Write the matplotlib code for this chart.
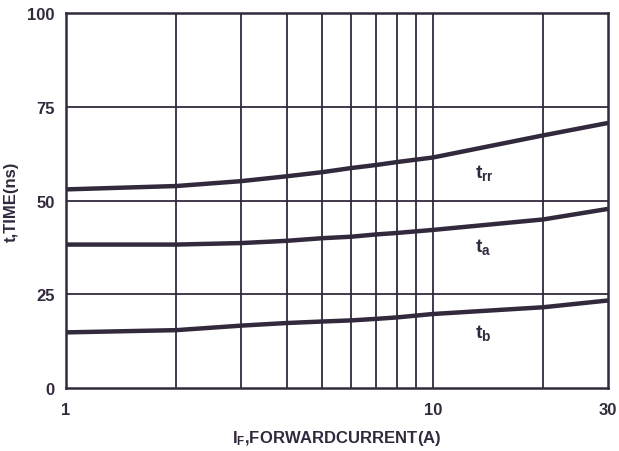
import matplotlib
matplotlib.use("Agg")
import matplotlib.pyplot as plt
from matplotlib.ticker import FixedLocator, NullLocator, FixedFormatter

plt.rcParams['font.family'] = ['Liberation Sans', 'DejaVu Sans']
plt.rcParams['mathtext.fontset'] = 'custom'
plt.rcParams['mathtext.rm'] = 'Liberation Sans:bold'
plt.rcParams['mathtext.it'] = 'Liberation Sans:bold'
plt.rcParams['mathtext.bf'] = 'Liberation Sans:bold'

INK = '#33293d'

# forward current (A)
current = [1, 2, 3, 4, 5, 6, 7, 8, 10, 20, 30]
# reverse recovery times (ns)
t_rr = [53.0, 53.9, 55.2, 56.5, 57.6, 58.7, 59.5, 60.3, 61.5, 67.4, 70.7]
t_a = [38.3, 38.3, 38.7, 39.3, 40.0, 40.4, 41.0, 41.4, 42.2, 45.0, 47.8]
t_b = [14.9, 15.5, 16.7, 17.4, 17.8, 18.1, 18.5, 18.9, 19.8, 21.6, 23.4]

series = [
    (t_rr, r'$\mathregular{t_{rr}}$', 57.6),
    (t_a, r'$\mathregular{t_a}$', 37.8),
    (t_b, r'$\mathregular{t_b}$', 15.1),
]

x_grid = [2, 3, 4, 5, 6, 7, 8, 9, 10, 20]
x_ticks = [1, 10, 30]
y_ticks = [0, 25, 50, 75, 100]

fig = plt.figure(figsize=(6.19, 4.52), dpi=100)
ax = fig.add_axes([0.1066, 0.1387, 0.8755, 0.8303])

ax.set_xscale('log')
ax.set_xlim(1, 30)
ax.set_ylim(0, 100)

for xv in x_grid:
    ax.axvline(xv, color=INK, lw=1.3, zorder=1)
for yv in y_ticks[1:-1]:
    ax.axhline(yv, color=INK, lw=1.3, zorder=1)

for vals, label, ly in series:
    ax.plot(current, vals, color=INK, lw=3.2, solid_capstyle='butt', zorder=3)
    ax.text(13.0, ly, label, color=INK, fontsize=14, fontweight='bold',
            ha='left', va='center', zorder=4)

ax.xaxis.set_major_locator(FixedLocator(x_ticks))
ax.xaxis.set_major_formatter(FixedFormatter([str(v) for v in x_ticks]))
ax.xaxis.set_minor_locator(NullLocator())
ax.set_yticks(y_ticks)
ax.tick_params(axis='both', length=0, labelsize=12, colors=INK)
ax.tick_params(axis='x', pad=10)
ax.tick_params(axis='y', pad=8)
for lbl in ax.get_xticklabels() + ax.get_yticklabels():
    lbl.set_fontweight('bold')

for sp in ax.spines.values():
    sp.set_color(INK)
    sp.set_linewidth(1.8)

ax.set_xlabel(r'$\mathregular{I_F}$,FORWARDCURRENT(A)', fontsize=12,
              fontweight='bold', color=INK, labelpad=8)
ax.set_ylabel('t,TIME(ns)', fontsize=12, fontweight='bold', color=INK,
              labelpad=6)

fig.savefig('out.png', dpi=100)
